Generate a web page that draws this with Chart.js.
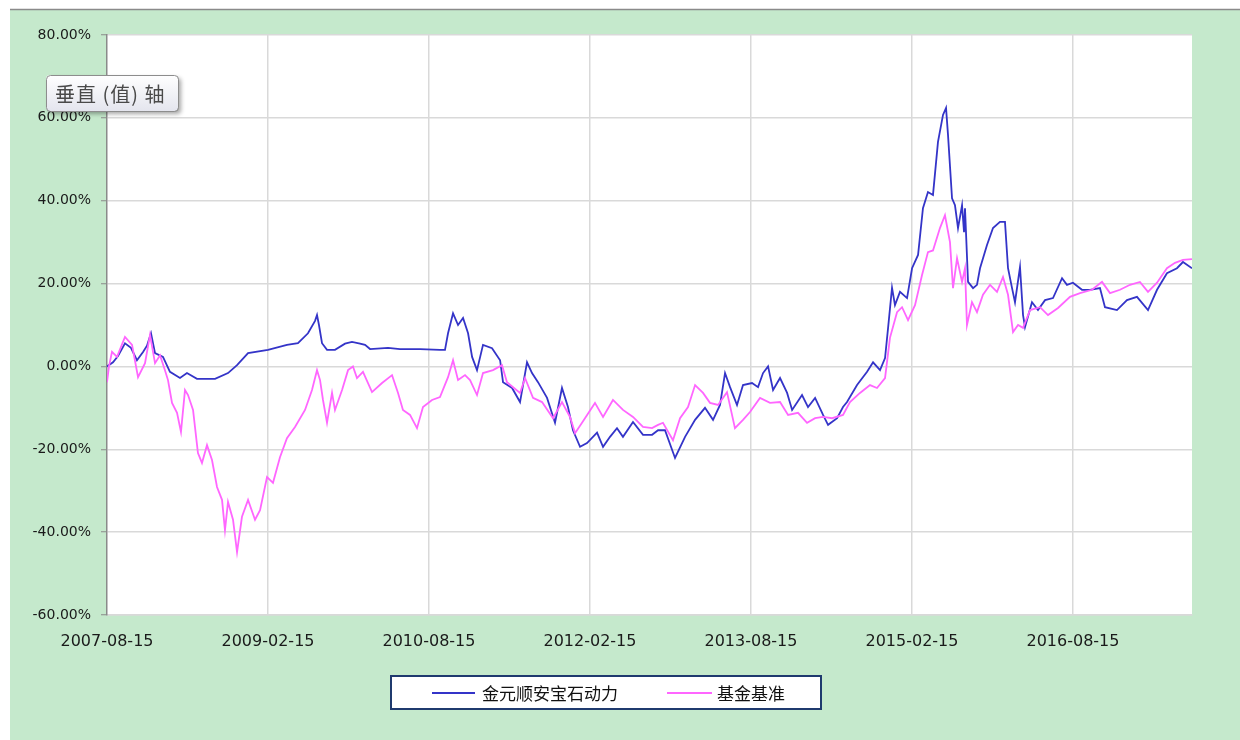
<!DOCTYPE html>
<html>
<head>
<meta charset="utf-8">
<script src="https://cdn.jsdelivr.net/npm/chart.js@4/dist/chart.umd.min.js"></script>
<style>
html,body{margin:0;padding:0;background:#fff;}
#wrap{width:1240px;height:740px;position:relative;}
</style>
</head>
<body>
<div id="wrap"><canvas id="c" width="1240" height="740"></canvas></div>
<script>
// ---- data ----
const tickLabels = ['2007-08-15','2009-02-15','2010-08-15','2012-02-15','2013-08-15','2015-02-15','2016-08-15'];
const seriesNames = ['金元顺安宝石动力','基金基准'];
const axisTipText = '垂直 (值) 轴';

// months elapsed since 2007-08-15
const fundMonths = [0,0.67,1.23,2.01,2.68,3.35,4.03,4.47,4.92,5.37,6.26,7.04,8.16,8.94,10.06,12.08,13.53,14.54,15.77,18.0,20.12,21.35,22.47,23.26,23.48,23.7,24.04,24.6,25.49,26.61,27.39,28.29,28.85,29.41,31.42,32.76,35.0,37.23,37.79,38.13,38.69,39.25,39.81,40.37,40.82,41.37,42.04,43.05,43.95,44.28,45.29,46.18,46.96,47.52,48.19,49.2,50.09,50.87,51.54,52.1,52.89,53.67,54.79,55.46,56.24,57.02,57.69,58.81,59.93,60.94,61.61,62.39,63.51,64.63,65.75,66.86,67.76,68.54,69.1,69.66,70.44,71.11,72.12,72.79,73.35,73.91,74.47,75.25,76.04,76.6,77.71,78.38,79.17,80.06,80.62,81.63,82.29,82.74,83.86,84.98,85.65,86.43,86.99,87.33,87.77,88.1,88.66,89.45,90.01,90.68,91.23,91.79,92.35,92.91,93.47,93.81,94.03,94.48,94.81,95.15,95.6,95.82,95.93,96.27,96.83,97.27,97.61,98.39,99.06,99.84,100.4,100.74,101.19,101.52,102.08,102.42,102.64,103.42,104.09,104.88,105.77,106.78,107.33,108.0,109.01,109.91,111.02,111.58,112.92,114.04,115.16,116.39,117.4,118.51,119.63,120.3,121.31];
const fundValues = [0,1,2.5,5.6,4.5,1.5,3.5,5,8,3.2,2.3,-1.3,-2.8,-1.6,-3,-3,-1.6,0.3,3.2,4,5.2,5.6,8,11,12.4,10,5.6,4,4,5.5,5.9,5.5,5.2,4.2,4.5,4.2,4.2,4,4,8,12.8,10,11.7,8,2.3,-0.9,5.2,4.4,1.5,-3.8,-5.2,-8.6,1,-1.6,-3.8,-7.6,-13.6,-5.2,-9.8,-15.4,-19.4,-18.5,-16,-19.4,-17,-14.9,-17,-13.4,-16.5,-16.5,-15.4,-15.4,-22.1,-17,-12.9,-10,-12.9,-9.3,-1.6,-5,-9.3,-4.5,-4,-5,-1.6,0,-5.7,-2.8,-6.4,-10.5,-6.9,-9.8,-7.6,-11.7,-14.1,-12.5,-9.8,-8.6,-4.5,-1.3,1,-0.9,2,9.3,19,14.8,18,16.5,23.7,26.9,38.2,42.1,41.4,54.2,60.7,62.4,55.9,40.6,38.9,33.4,38.9,32.4,38.2,20.4,18.9,19.7,23.7,29.3,33.4,34.9,34.9,23.7,18.9,15.5,24,12.4,9.5,15.5,13.6,16,16.5,21.3,19.7,20.2,18.5,18.5,18.9,14.3,13.6,16,16.8,13.6,18.5,22.5,23.7,25.2,23.7];

const benchMonths = [0,0.22,0.56,1.12,2.01,2.8,3.47,4.25,4.81,5.37,5.93,6.48,6.82,7.27,7.83,8.27,8.72,9.06,9.62,10.17,10.62,11.18,11.74,12.3,12.86,13.19,13.53,14.09,14.54,15.09,15.77,16.55,17.11,17.89,18.56,19.34,20.12,21.02,22.14,22.92,23.48,23.82,24.15,24.6,25.16,25.49,26.28,26.95,27.5,27.95,28.62,29.63,30.75,31.87,32.54,33.09,33.88,34.66,35.33,36.34,37.23,38.13,38.69,39.25,40.03,40.59,41.37,42.04,43.16,44.16,44.72,46.18,46.74,47.63,48.64,49.87,50.87,51.77,52.33,53.11,54.56,55.46,56.57,57.69,58.81,59.93,60.94,61.61,62.16,63.28,64.07,64.96,65.75,66.64,67.42,68.32,69.32,70.21,71.11,71.89,73.01,74.13,75.25,76.15,77.26,78.27,79.17,80.06,81.07,82.29,83.07,84.19,85.31,86.09,86.99,87.54,88.33,88.89,89.56,90.34,91.12,91.79,92.35,93.13,93.69,94.25,94.59,95.04,95.6,95.93,96.15,96.71,97.27,97.94,98.73,99.51,100.18,100.74,101.3,101.86,102.42,103.2,104.32,105.21,106.33,107.67,108.79,110.13,111.25,112.14,113.26,114.38,115.49,116.39,117.4,118.51,119.41,120.3,121.31];
const benchValues = [-3.8,0,3.5,2.3,7.1,5.2,-2.6,0.8,7.6,0.8,2.7,-0.9,-3.3,-8.8,-11.2,-15.8,-5.7,-6.9,-10.5,-20.9,-23.3,-19,-22.6,-29.1,-32.2,-39.5,-32.7,-37,-44.8,-36.3,-32.2,-37,-34.7,-26.7,-28.1,-21.9,-17.3,-14.6,-10.5,-5.7,-0.9,-3.3,-8.1,-13.6,-6.4,-10.5,-5.7,-0.9,0,-2.8,-1.3,-6.2,-4,-2.1,-6.4,-10.5,-11.7,-14.9,-9.8,-8.1,-7.4,-2.6,1.5,-3.3,-2.1,-3.3,-6.9,-1.6,-0.9,0.3,-3.8,-6.4,-2.8,-7.6,-8.6,-12.5,-8.6,-12.2,-16.1,-13.6,-8.8,-12.2,-8.1,-10.5,-12.2,-14.6,-14.9,-14.1,-13.6,-17.8,-12.5,-9.8,-4.5,-6.4,-8.8,-9.3,-6.2,-14.9,-12.9,-11,-7.6,-8.8,-8.6,-11.7,-11.2,-13.6,-12.5,-12.2,-12.5,-11.7,-8.6,-6.4,-4.5,-5.2,-2.8,6.9,13.1,14.3,11.2,14.8,22,27.6,28,33.4,36.5,30,18.9,26.1,20.4,23.7,10,15.5,13.1,17.3,19.7,18,21.6,17.3,8.3,10,9.3,13.6,14.3,12.4,14.1,16.8,17.7,18.5,20.4,17.7,18.5,19.7,20.4,18,20.2,23.7,25,25.7,25.9];

const yMin = -60, yMax = 80, yStep = 20, xTickStep = 18;
const colors = ['#3434c8', '#ff66ff'];

// ---- build ----
const toPts = (xs, ys) => xs.map((x, i) => ({x: x, y: ys[i]}));

const bgPlugin = {
  id: 'bg',
  beforeDraw(chart) {
    const ctx = chart.ctx, a = chart.chartArea;
    ctx.save();
    ctx.fillStyle = '#ffffff';
    ctx.fillRect(0, 0, chart.width, chart.height);
    ctx.fillStyle = '#c5e9cc';
    ctx.fillRect(10, 10, chart.width - 10, chart.height - 10);
    ctx.strokeStyle = '#8a8a8a';
    ctx.lineWidth = 1.5;
    ctx.beginPath(); ctx.moveTo(10, 9.5); ctx.lineTo(chart.width, 9.5); ctx.stroke();
    ctx.fillStyle = '#ffffff';
    ctx.fillRect(a.left, a.top, a.right - a.left, a.bottom - a.top);
    ctx.restore();
  }
};

const overlayPlugin = {
  id: 'overlay',
  afterDraw(chart) {
    const ctx = chart.ctx;
    ctx.save();
    // legend box
    ctx.fillStyle = '#ffffff';
    ctx.fillRect(390, 675, 432, 35);
    ctx.strokeStyle = '#1f3a6e';
    ctx.lineWidth = 2;
    ctx.strokeRect(391, 676, 430, 33);
    const items = [{x1: 432, x2: 475, tx: 482}, {x1: 667, x2: 712, tx: 717}];
    ctx.font = '17px "Noto Sans CJK SC"';
    ctx.textBaseline = 'middle';
    chart.data.datasets.forEach((ds, i) => {
      const it = items[i];
      ctx.strokeStyle = ds.borderColor;
      ctx.lineWidth = 2;
      ctx.beginPath(); ctx.moveTo(it.x1, 693); ctx.lineTo(it.x2, 693); ctx.stroke();
      ctx.fillStyle = '#111';
      ctx.fillText(ds.label, it.tx, 694);
    });
    // axis tip box
    const bx = 46, by = 75, bw = 132, bh = 36, r = 4;
    ctx.shadowColor = 'rgba(0,0,0,0.35)';
    ctx.shadowOffsetX = 3; ctx.shadowOffsetY = 3; ctx.shadowBlur = 4;
    const g = ctx.createLinearGradient(0, by, 0, by + bh);
    g.addColorStop(0, '#ffffff'); g.addColorStop(1, '#e4e5ee');
    ctx.fillStyle = g;
    ctx.beginPath();
    ctx.roundRect(bx, by, bw, bh, r);
    ctx.fill();
    ctx.shadowColor = 'transparent';
    ctx.strokeStyle = '#8d8d8d';
    ctx.lineWidth = 1;
    ctx.beginPath(); ctx.roundRect(bx + 0.5, by + 0.5, bw, bh, r); ctx.stroke();
    ctx.fillStyle = '#4a4a4a';
    ctx.font = '20px "Noto Sans CJK SC"';
    ctx.letterSpacing = '1px';
    ctx.textBaseline = 'middle';
    ctx.fillText(axisTipText, 55, 94);
    ctx.restore();
  }
};

new Chart(document.getElementById('c'), {
  type: 'line',
  data: {
    datasets: [
      {label: seriesNames[0], data: toPts(fundMonths, fundValues), borderColor: colors[0], borderWidth: 1.8, pointRadius: 0, tension: 0, order: 2},
      {label: seriesNames[1], data: toPts(benchMonths, benchValues), borderColor: colors[1], borderWidth: 1.8, pointRadius: 0, tension: 0, order: 1}
    ]
  },
  options: {
    responsive: false,
    animation: false,
    devicePixelRatio: 1,
    layout: {padding: {top: 35, right: 48, bottom: 0, left: 0}},
    plugins: {legend: {display: false}, tooltip: {enabled: false}},
    scales: {
      x: {
        type: 'linear',
        min: 0,
        max: fundMonths[fundMonths.length - 1],
        afterBuildTicks(scale) {
          scale.ticks = tickLabels.map((t, i) => ({value: i * xTickStep}));
        },
        afterFit(scale) { scale.height = 125; },
        grid: {
          color: (c) => c.index === 0 ? 'rgba(0,0,0,0)' : '#d9d9d9',
          lineWidth: 1.5,
          drawTicks: false
        },
        border: {display: true, color: '#d9d9d9', width: 1.5},
        ticks: {
          autoSkip: false,
          maxRotation: 0,
          padding: 17,
          color: '#1a1a1a',
          font: {family: 'DejaVu Sans', size: 16},
          callback: (v) => tickLabels[Math.round(v / xTickStep)]
        }
      },
      y: {
        min: yMin, max: yMax,
        afterFit(scale) { scale.width = 107; },
        ticks: {
          stepSize: yStep,
          padding: 10,
          color: '#1a1a1a',
          font: {family: 'DejaVu Sans', size: 14},
          callback: (v) => v.toFixed(2) + '%'
        },
        grid: {color: '#d9d9d9', lineWidth: 1.5, tickLength: 6, tickColor: '#8a8a8a', tickWidth: 1},
        border: {display: true, color: '#8a8a8a', width: 1.5}
      }
    }
  },
  plugins: [bgPlugin, overlayPlugin]
});
</script>
</body>
</html>
